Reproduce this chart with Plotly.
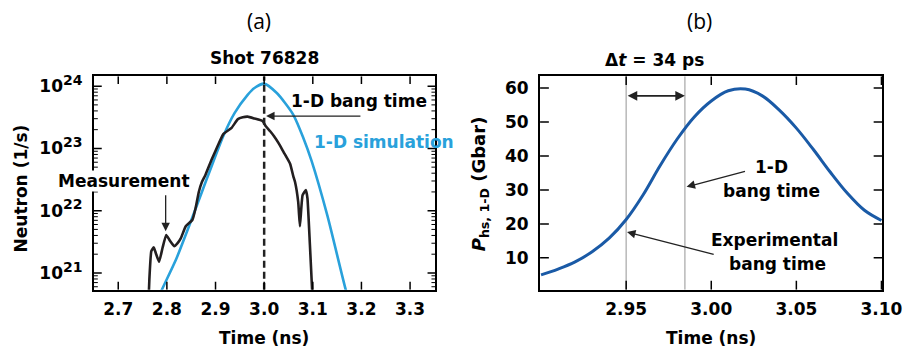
import math
import plotly.graph_objects as go

# ---------------- Panel (a) data ----------------
sim_t = [2.780, 2.7885, 2.819, 2.8455, 2.872, 2.8825, 2.900, 2.916, 2.9394, 2.966, 2.980,
         3.000, 3.026, 3.043, 3.060, 3.080, 3.0975, 3.130, 3.1674, 3.175]
sim_log = [20.55, 20.71, 21.22, 21.75, 22.30, 22.52, 22.88, 23.20, 23.57, 23.86, 23.97,
           24.04, 23.89, 23.73, 23.54, 23.18, 22.80, 21.92, 20.74, 20.55]

meas_t = [2.762, 2.764, 2.768, 2.773, 2.778, 2.784, 2.791, 2.7986, 2.806, 2.815, 2.822,
          2.8288, 2.8388, 2.8523, 2.859, 2.8656, 2.872, 2.879, 2.8925, 2.905, 2.916, 2.933,
          2.946, 2.956, 2.966, 2.980, 2.9966, 3.003, 3.012, 3.020, 3.030, 3.040, 3.0535,
          3.060, 3.0635, 3.070, 3.0735, 3.079, 3.0857, 3.089, 3.094, 3.0985, 3.100]
meas_log = [20.50, 20.90, 21.35, 21.41, 21.30, 21.18, 21.40, 21.61, 21.52, 21.43, 21.48,
            21.56, 21.75, 21.85, 22.04, 22.30, 22.46, 22.57, 22.83, 23.05, 23.23, 23.33,
            23.47, 23.50, 23.51, 23.48, 23.44, 23.36, 23.28, 23.20, 23.08, 22.94, 22.75,
            22.55, 22.46, 22.14, 21.75, 22.25, 22.33, 22.20, 21.46, 20.74, 20.50]

a_xticks = [2.7, 2.8, 2.9, 3.0, 3.1, 3.2, 3.3]
a_xticklabels = ["2.7", "2.8", "2.9", "3.0", "3.1", "3.2", "3.3"]
a_yexp = [21, 22, 23, 24]
bang_1d_a = 3.0

# ---------------- Panel (b) data ----------------
p_t = [2.90, 2.91, 2.92, 2.93, 2.94, 2.95, 2.96, 2.97, 2.98, 2.99, 3.00,
       3.01, 3.02, 3.03, 3.04, 3.05, 3.06, 3.07, 3.08, 3.09, 3.10]
p_val = [5.0, 6.7, 8.8, 11.8, 15.8, 21.3, 28.6, 37.2, 45.0, 51.5, 56.2,
         59.2, 59.7, 57.7, 53.5, 48.2, 41.9, 35.2, 29.0, 24.0, 21.0]
b_xticks = [2.95, 3.00, 3.05, 3.10]
b_xticklabels = ["2.95", "3.00", "3.05", "3.10"]
b_yticks = [10, 20, 30, 40, 50, 60]
b_yticklabels = ["10", "20", "30", "40", "50", "60"]
exp_bang = 2.950
sim_bang = 2.9845
dt_arrow_y = 57.7

# axis ranges
A_XR = [2.65, 3.352]
A_YR = [20.73, 24.16]      # log10 units
B_XR = [2.8994, 3.1006]
B_YR = [0.6, 63.5]

W, H = 924, 356
FONT = "DejaVu Sans"
bold = dict(family=FONT, size=17, color="black", weight="bold")
tickfont = dict(family=FONT, size=17, color="black")

def px(x):
    return x / W

def py(y):
    return 1 - y / H

def b(s):
    return "<b>" + s + "</b>"

A_X = [96, 445]
B_X = [552, 902]
Y_PX = [73, 289]
PLOT_H = Y_PX[1] - Y_PX[0]
ydom = [1 - Y_PX[1] / H, 1 - Y_PX[0] / H]

fig = go.Figure()

def add_line(x, y, xa, ya, color, width, **kw):
    fig.add_trace(go.Scatter(x=x, y=y, mode="lines", xaxis=xa, yaxis=ya,
                             line=dict(color=color, width=width, **kw),
                             hoverinfo="skip", connectgaps=False))

# reference lines (drawn under the curves)
add_line([exp_bang, exp_bang, None, sim_bang, sim_bang],
         [B_YR[0], B_YR[1], None, B_YR[0], B_YR[1]], "x2", "y2", "#b8b8b8", 1.5)

# curves
add_line(sim_t, [10.0 ** v for v in sim_log], "x", "y", "#29a1db", 2.6,
         shape="spline", smoothing=0.6)
add_line(meas_t, [10.0 ** v for v in meas_log], "x", "y", "#231f20", 2.6,
         shape="spline", smoothing=0.4)
add_line(p_t, p_val, "x2", "y2", "#1a5aa6", 3, shape="spline", smoothing=1.0)

# 1-D bang time dashed marker in (a)
add_line([bang_1d_a, bang_1d_a], [10.0 ** A_YR[0], 10.0 ** A_YR[1]], "x", "y",
         "#222222", 2.5, dash="7px,4px")

# inside ticks (mirrored), positioned by the axes' own scales
def inner_ticks(xa, ya, xr, yr, xt, yt, ymin_ticks, wpx, log=False, tlen=8):
    conv = (lambda v: 10.0 ** v) if log else (lambda v: v)
    dy = (yr[1] - yr[0]) * tlen / PLOT_H
    dx = (xr[1] - xr[0]) * tlen / wpx
    X, Y = [], []
    for v in xt:
        X += [v, v, None, v, v, None]
        Y += [conv(yr[0]), conv(yr[0] + dy), None, conv(yr[1]), conv(yr[1] - dy), None]
    for v in yt:
        X += [xr[0], xr[0] + dx, None, xr[1], xr[1] - dx, None]
        Y += [conv(v), conv(v), None, conv(v), conv(v), None]
    add_line(X, Y, xa, ya, "black", 1.5)
    if ymin_ticks:
        dxm = (xr[1] - xr[0]) * 4 / wpx
        X, Y = [], []
        for v in ymin_ticks:
            X += [xr[0], xr[0] + dxm, None, xr[1], xr[1] - dxm, None]
            Y += [conv(v), conv(v), None, conv(v), conv(v), None]
        add_line(X, Y, xa, ya, "black", 1)

minor_logs = [e + math.log10(k) for e in range(20, 25) for k in range(2, 10)]
inner_ticks("x", "y", A_XR, A_YR, a_xticks, a_yexp,
            [m for m in minor_logs if A_YR[0] < m < A_YR[1]],
            A_X[1] - A_X[0], log=True, tlen=8)
inner_ticks("x2", "y2", B_XR, B_YR, b_xticks, b_yticks, None,
            B_X[1] - B_X[0], log=False, tlen=9)

axis_common = dict(showline=True, linecolor="black", linewidth=2, mirror=True,
                   ticks="", showgrid=False, zeroline=False, tickfont=tickfont)
sup = "<span style='font-size:14px'>%d</span>"

fig.update_layout(
    width=W, height=H, margin=dict(l=0, r=0, t=0, b=0),
    paper_bgcolor="white", plot_bgcolor="white", showlegend=False,
    xaxis=dict(domain=[A_X[0] / W, A_X[1] / W], range=A_XR, anchor="y",
               tickmode="array", tickvals=a_xticks, ticktext=[b(t) for t in a_xticklabels],
               ticklabelstandoff=3, **axis_common),
    yaxis=dict(domain=ydom, type="log", range=A_YR, anchor="x",
               tickmode="array", tickvals=[10.0 ** e for e in a_yexp],
               ticktext=[b("10<sup>" + (sup % e) + "</sup>") for e in a_yexp],
               ticklabelstandoff=6, **axis_common),
    xaxis2=dict(domain=[B_X[0] / W, B_X[1] / W], range=B_XR, anchor="y2",
                tickmode="array", tickvals=b_xticks, ticktext=[b(t) for t in b_xticklabels],
                ticklabelstandoff=3, **axis_common),
    yaxis2=dict(domain=ydom, range=B_YR, anchor="x2",
                tickmode="array", tickvals=b_yticks, ticktext=[b(t) for t in b_yticklabels],
                ticklabelstandoff=6, **axis_common),
)

ann = []
def text(s, x, y, font=bold, angle=0, bg=None):
    d = dict(text=s, x=px(x), y=py(y), xref="paper", yref="paper",
             showarrow=False, font=font, textangle=angle,
             xanchor="center", yanchor="middle")
    if bg:
        d.update(bgcolor=bg, borderpad=0)
    ann.append(d)

label_font = dict(family="Open Sans", size=21, color="black")
text("(a)", 265, 17, label_font)
text("(b)", 715, 17, label_font)
text("Shot 76828", 270, 55)
text("1-D bang time", 367, 98)
text("1-D simulation", 393, 140, dict(family=FONT, size=17, color="#29a1db", weight="bold"))
text("Measurement", 127, 179, bg="white")
text("Neutron (1/s)", 21, 187, angle=-90)
text("Time (ns)", 270, 338)
text("Δ<i>t</i> = 34 ps", 669, 57)
text("1-D", 789, 165)
text("bang time", 789, 189)
text("Experimental", 792, 239)
text("bang time", 795, 263)
text("<i>P</i><sub>hs, 1-D</sub> (Gbar)", 491, 182,
     dict(family=FONT, size=18, color="black", weight="bold"), angle=-90)
text("Time (ns)", 727, 338)

arrow_style = dict(showarrow=True, arrowhead=2, arrowsize=1.3, arrowwidth=1.3,
                   arrowcolor="#222222", text="")
# panel a arrows (log axis uses log10 coordinates)
ann.append(dict(x=3.004, y=23.52, ax=3.201, ay=23.52, xref="x", yref="y",
                axref="x", ayref="y", **arrow_style))
ann.append(dict(x=2.7975, y=21.67, ax=2.7975, ay=22.27, xref="x", yref="y",
                axref="x", ayref="y", **arrow_style))
# panel b arrows
ann.append(dict(x=2.9855, y=30.9, ax=3.0207, ay=35.6, xref="x2", yref="y2",
                axref="x2", ayref="y2", **arrow_style))
ann.append(dict(x=2.9505, y=17.6, ax=3.0023, ay=10.9, xref="x2", yref="y2",
                axref="x2", ayref="y2", **arrow_style))
ann.append(dict(x=sim_bang, y=dt_arrow_y, ax=exp_bang, ay=dt_arrow_y, xref="x2", yref="y2",
                axref="x2", ayref="y2", showarrow=True, arrowhead=2, startarrowhead=2,
                arrowside="end+start", arrowsize=1.2, startarrowsize=1.2, arrowwidth=1.6,
                arrowcolor="#222222", text=""))
fig.update_layout(annotations=ann)

fig.write_html("out.html")
